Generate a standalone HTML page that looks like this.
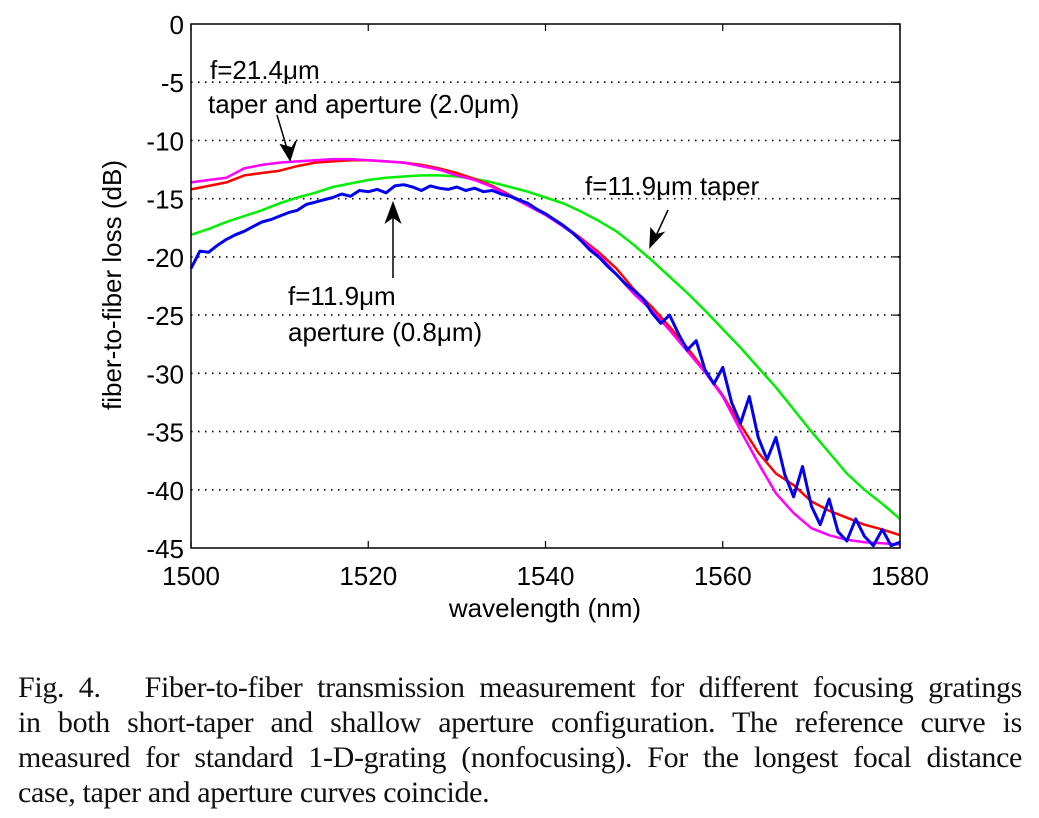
<!DOCTYPE html>
<html><head><meta charset="utf-8"><style>
body{margin:0;background:#fff;width:1039px;height:818px;overflow:hidden;position:relative}
svg text{font-family:"Liberation Sans",Arial,sans-serif;fill:#000}
#cap{position:absolute;left:18px;top:670px;width:1004px;font-family:"Liberation Serif",serif;font-size:30px;letter-spacing:-0.35px;line-height:35px;color:#111}
#cap div{text-align:justify;text-align-last:justify;white-space:nowrap}
#cap div.last{text-align-last:left}
</style></head><body>
<svg id="chart" width="1039" height="660" style="position:absolute;left:0;top:0">
<g id="grid"></g><g id="series"></g><g id="axes"></g>
<text x="210" y="79" font-size="26">f=21.4μm</text>
<text x="208" y="113" font-size="26">taper and aperture (2.0μm)</text>
<text x="585" y="195" font-size="26">f=11.9μm taper</text>
<text x="288" y="305" font-size="26">f=11.9μm</text>
<text x="288" y="341" font-size="26">aperture (0.8μm)</text>
<g stroke="#000" stroke-width="1.5" fill="#000">
<line x1="277" y1="115" x2="288" y2="152"/>
<polygon points="290,160 281,145 292,148 296,141"/>
<line x1="393" y1="278" x2="393" y2="212"/>
<polygon points="393,203 386,222 393,217 400,222"/>
<line x1="668" y1="210" x2="655" y2="238"/>
<polygon points="650,247 651,229 656,235 663,233"/>
</g>
<text x="545" y="617" font-size="26" text-anchor="middle">wavelength (nm)</text>
<text transform="translate(121,285) rotate(-90)" font-size="26" text-anchor="middle">fiber-to-fiber loss (dB)</text>
</svg>
<div id="cap">
<div>Fig. 4.&nbsp;&nbsp; Fiber-to-fiber transmission measurement for different focusing gratings</div>
<div>in both short-taper and shallow aperture configuration. The reference curve is</div>
<div>measured for standard 1-D-grating (nonfocusing). For the longest focal distance</div>
<div class="last">case, taper and aperture curves coincide.</div>
</div>
<script>
const xTicks=[1500,1520,1540,1560,1580];
const yTicks=[0,-5,-10,-15,-20,-25,-30,-35,-40,-45];
const magenta=[-13.6,-13.4,-13.2,-12.4,-12.1,-11.9,-11.8,-11.7,-11.6,-11.6,-11.7,-11.8,-11.9,-12.2,-12.5,-13.0,-13.4,-14.0,-14.8,-15.6,-16.4,-17.4,-18.5,-19.8,-21.5,-23.2,-24.6,-26.3,-28.1,-29.9,-32.0,-34.9,-37.7,-40.3,-42.0,-43.3,-43.9,-44.3,-44.5,-44.6,-44.7];
const red=[-14.2,-13.9,-13.6,-13.0,-12.8,-12.6,-12.2,-11.9,-11.8,-11.7,-11.7,-11.8,-11.9,-12.1,-12.4,-12.8,-13.3,-13.9,-14.7,-15.5,-16.3,-17.3,-18.4,-19.6,-21.0,-22.8,-24.3,-26.0,-27.8,-29.8,-31.9,-34.4,-36.8,-38.6,-39.6,-41.0,-41.8,-42.4,-43.0,-43.4,-43.9];
const green=[-18.1,-17.6,-17.0,-16.5,-16.0,-15.4,-14.9,-14.5,-14.0,-13.7,-13.4,-13.2,-13.1,-13.0,-13.0,-13.1,-13.3,-13.6,-14.0,-14.4,-14.9,-15.4,-16.1,-16.9,-17.8,-19.0,-20.3,-21.7,-23.1,-24.6,-26.2,-27.8,-29.5,-31.2,-33.1,-35.0,-36.8,-38.6,-40.0,-41.2,-42.5];
const blue=[-21.0,-19.5,-19.6,-19.0,-18.5,-18.1,-17.8,-17.4,-17.0,-16.8,
-16.5,-16.2,-16.0,-15.5,-15.3,-15.1,-14.9,-14.6,-14.8,-14.3,
-14.4,-14.2,-14.5,-13.9,-13.8,-14.0,-14.3,-13.9,-14.1,-14.2,
-14.0,-14.3,-14.1,-14.4,-14.3,-14.6,-14.8,-15.1,-15.4,-15.9,
-16.3,-16.8,-17.3,-17.9,-18.6,-19.4,-20.0,-20.8,-21.5,-22.3,
-22.9,-23.6,-24.8,-25.7,-25.0,-26.6,-28.0,-27.2,-29.7,-30.9,
-29.5,-32.5,-34.3,-32.0,-35.5,-37.4,-35.5,-38.7,-40.6,-38.0,
-41.4,-43.0,-40.8,-43.6,-44.4,-42.5,-44.0,-44.8,-43.4,-44.8,-44.5];
const X0=191,X1=900,Y0=24,Y1=548;
const sx=v=>X0+(v-1500)/80*(X1-X0);
const sy=v=>Y0+(0-v)/45*(Y1-Y0);
const NS='http://www.w3.org/2000/svg';
function mk(tag,parent,attrs){const e=document.createElementNS(NS,tag);for(const k in attrs)e.setAttribute(k,attrs[k]);parent.appendChild(e);return e;}
const grid=document.getElementById('grid'),axes=document.getElementById('axes'),ser=document.getElementById('series');
yTicks.forEach(t=>{
 if(t!==0&&t!==-45){const g=mk('line',grid,{x1:X0,x2:X1,y1:sy(t),y2:sy(t),stroke:'#000','stroke-width':1.6,'stroke-dasharray':'1.5 5.5'});
 
 }
 const l=mk('text',axes,{x:X0-7,y:sy(t)+10,'font-size':26,'text-anchor':'end'});l.textContent=t;
 
 
 mk('line',axes,{x1:X1-7,x2:X1,y1:sy(t),y2:sy(t),stroke:'#000','stroke-width':1.2});
});
xTicks.forEach(t=>{
 const l=mk('text',axes,{x:sx(t),y:Y1+37,'font-size':26,'text-anchor':'middle'});l.textContent=t;
 
 
 mk('line',axes,{x1:sx(t),x2:sx(t),y1:Y1,y2:Y1-7,stroke:'#000','stroke-width':1.2});
 mk('line',axes,{x1:sx(t),x2:sx(t),y1:Y0,y2:Y0+7,stroke:'#000','stroke-width':1.2});
});
const fr=mk('rect',axes,{x:X0,y:Y0,width:X1-X0,height:Y1-Y0,fill:'none',stroke:'#000','stroke-width':1.5});


function line(arr,step,color,name,w){
 const pts=arr.map((v,i)=>sx(1500+i*step).toFixed(1)+','+sy(v).toFixed(1)).join(' ');
 const p=mk('polyline',ser,{points:pts,fill:'none',stroke:color,'stroke-width':w,'stroke-linejoin':'round'});
 
 
}
line(green,2,'#00ee00','series-f119-taper',2.5);
line(red,2,'#ff0000','series-f214-taper',2.5);
line(magenta,2,'#ff00ff','series-f214-aperture',2.5);
line(blue,1,'#0000ee','series-f119-aperture',3);
</script>
</body></html>
